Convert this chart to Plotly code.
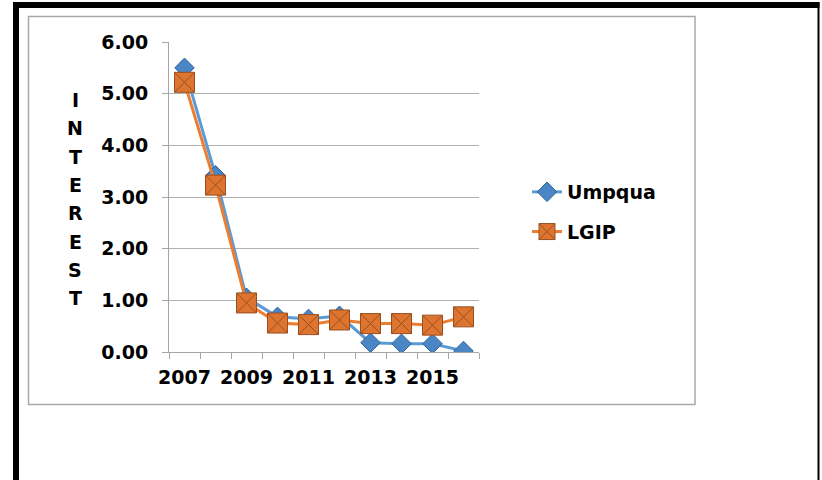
import plotly.graph_objects as go

# ---- data ----
years = [2007, 2008, 2009, 2010, 2011, 2012, 2013, 2014, 2015, 2016]
umpqua = [5.50, 3.42, 1.05, 0.68, 0.64, 0.70, 0.18, 0.16, 0.16, 0.02]
lgip = [5.22, 3.23, 0.95, 0.56, 0.53, 0.62, 0.55, 0.55, 0.52, 0.68]
x_tick_labels = ["2007", "2009", "2011", "2013", "2015"]
y_title = "INTEREST"

FONT = "DejaVu Sans"
W, H = 822, 480
ML, MR, MT, MB = 169, 343, 42, 128
PW, PH = W - ML - MR, H - MT - MB


def px(x):
    return (x - ML) / PW


def py(y):
    return (H - MB - y) / PH


fig = go.Figure()
fig.add_trace(go.Scatter(
    x=years, y=umpqua, name="Umpqua", mode="lines+markers", legendgroup="a",
    line=dict(color="#5B9BD5", width=3),
    marker=dict(symbol="diamond", size=15, color="#4A86C5",
                line=dict(color="#2F6196", width=1)),
))
fig.add_trace(go.Scatter(
    x=years, y=lgip, name="LGIP", mode="lines+markers", legendgroup="b",
    line=dict(color="#ED7D31", width=3),
    marker=dict(symbol="square-x", size=20, color="#DD7530",
                line=dict(color="#9A4E1E", width=1)),
))

boundaries = [y - 0.5 for y in years] + [years[-1] + 0.5]

fig.update_xaxes(
    range=[years[0] - 0.5, years[-1] + 0.5],
    tickvals=[int(t) for t in x_tick_labels], ticktext=x_tick_labels,
    ticks="", showgrid=False, zeroline=False,
    showline=True, linecolor="#A6A6A6", linewidth=1,
    tickfont=dict(family=FONT, size=19, color="black", weight="bold"),
    ticklabelstandoff=8,
    minor=dict(tickvals=boundaries, ticks="outside", ticklen=6,
               tickcolor="#A6A6A6", showgrid=False),
)
fig.update_yaxes(
    range=[0, 6], dtick=1, tickformat=".2f",
    showgrid=True, gridcolor="#B0B0B0", gridwidth=1, zeroline=False,
    showline=True, linecolor="#A6A6A6", linewidth=1,
    ticks="outside", ticklen=6, tickcolor="#A6A6A6",
    tickfont=dict(family=FONT, size=19, color="black", weight="bold"),
    ticklabelstandoff=10,
)

shapes = [
    dict(type="rect", xref="paper", yref="paper", x0=px(28.5), x1=px(695),
         y0=py(404.5), y1=py(16.5), line=dict(color="#A8A8A8", width=1.5),
         fillcolor="rgba(0,0,0,0)", layer="below"),
    dict(type="rect", xref="paper", yref="paper", x0=px(13), x1=px(19),
         y0=py(482), y1=py(2), line=dict(width=0), fillcolor="black"),
    dict(type="rect", xref="paper", yref="paper", x0=px(13), x1=px(819.5),
         y0=py(8), y1=py(2), line=dict(width=0), fillcolor="black"),
    dict(type="rect", xref="paper", yref="paper", x0=px(817.5), x1=px(819.5),
         y0=py(482), y1=py(2), line=dict(width=0), fillcolor="black"),
]

annotations = []
for i, ch in enumerate(y_title):
    annotations.append(dict(
        text=ch, xref="paper", yref="paper", x=px(75), y=py(100 + 28.3 * i),
        xanchor="center", yanchor="middle", showarrow=False,
        font=dict(family=FONT, size=19, color="black", weight="bold"),
    ))

fig.update_layout(
    width=W, height=H,
    margin=dict(l=ML, r=MR, t=MT, b=MB, pad=0),
    paper_bgcolor="white", plot_bgcolor="white",
    shapes=shapes, annotations=annotations,
    showlegend=True,
    legend=dict(x=px(527), y=py(173), xanchor="left", yanchor="top",
                font=dict(family=FONT, size=19, color="black", weight="bold"),
                tracegroupgap=12, bgcolor="rgba(0,0,0,0)"),
)

fig.write_html("out.html",
               config={"displayModeBar": False},
               post_script="document.body.style.margin='0';"
                           "document.body.style.overflow='hidden';")
